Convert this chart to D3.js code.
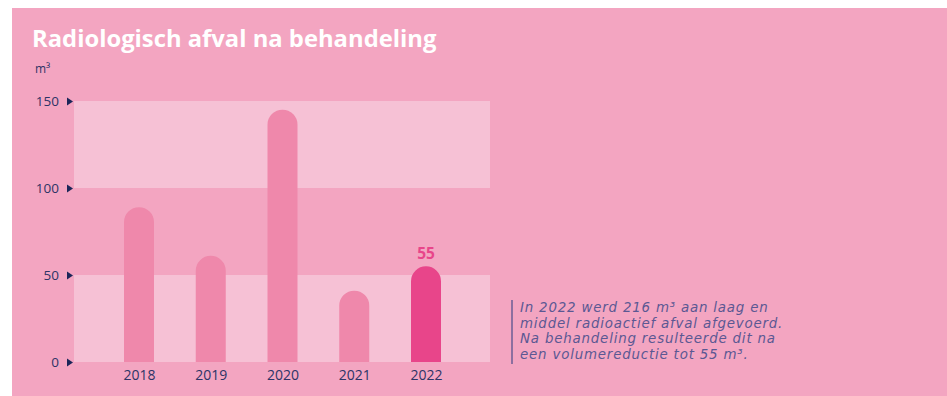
<!DOCTYPE html>
<html>
<head>
<meta charset="utf-8">
<script src="https://cdn.jsdelivr.net/npm/d3@7"></script>
<style>
  html, body { margin: 0; padding: 0; background: #ffffff; }
  svg { display: block; }
</style>
</head>
<body>
<svg id="chart" width="947" height="396"></svg>
<script>
// Radioactive waste volume after treatment, m³ per year
const years = ["2018", "2019", "2020", "2021", "2022"];
const volumes = [89, 61, 145, 41, 55];
const highlightYear = "2022";
const yTicks = [0, 50, 100, 150];
const bands = [[0, 50], [100, 150]];
const titleText = "Radiologisch afval na behandeling";
const unitText = "m³";
const noteLines = [
  "In 2022 werd 216 m³ aan laag en",
  "middel radioactief afval afgevoerd.",
  "Na behandeling resulteerde dit na",
  "een volumereductie tot 55 m³."
];

const svg = d3.select("#chart");
const navy = "#2d3466";

// panel
svg.append("rect").attr("x", 12).attr("y", 8).attr("width", 935).attr("height", 388)
  .attr("fill", "#f3a5c1");

svg.append("text").attr("x", 32).attr("y", 47)
  .attr("font-family", "'Open Sans', sans-serif").attr("font-weight", 700)
  .attr("font-size", 23.8).attr("fill", "#ffffff").text(titleText);

svg.append("text").attr("x", 35).attr("y", 73)
  .attr("font-family", "'Open Sans', sans-serif").attr("font-size", 12)
  .attr("fill", navy).text(unitText);

const y = d3.scaleLinear().domain([0, 150]).range([362, 101]);
const x = d3.scalePoint().domain(years).range([139, 426]);
const barW = 30;
const plotLeft = 74, plotRight = 490;

// alternating background bands
svg.append("g").selectAll("rect").data(bands).join("rect")
  .attr("x", plotLeft).attr("width", plotRight - plotLeft)
  .attr("y", d => y(d[1])).attr("height", d => y(d[0]) - y(d[1]))
  .attr("fill", "#f6c1d5");

// y axis: labels with small triangle markers
const yAxis = svg.append("g").attr("transform", `translate(${plotLeft},0)`)
  .call(d3.axisLeft(y).tickValues(yTicks).tickSize(0).tickPadding(15));
yAxis.select(".domain").remove();
yAxis.selectAll("text").attr("font-family", "'Open Sans', sans-serif")
  .attr("font-size", 13.5).attr("fill", navy);
yAxis.selectAll(".tick").append("path")
  .attr("d", "M-7,-4L-1,0L-7,4Z").attr("fill", "#1b2659");

// bars with rounded tops
function barPath(cx, top, bottom, w) {
  const r = w / 2;
  return `M${cx - r},${bottom}L${cx - r},${top + r}A${r},${r} 0 0 1 ${cx + r},${top + r}L${cx + r},${bottom}Z`;
}
const data = years.map((yr, i) => ({ year: yr, value: volumes[i] }));
svg.append("g").selectAll("path").data(data).join("path")
  .attr("d", d => barPath(x(d.year), y(d.value), y(0), barW))
  .attr("fill", d => d.year === highlightYear ? "#e8458a" : "#ef88ab");

// value label on highlighted bar
data.filter(d => d.year === highlightYear).forEach(d => {
  svg.append("text").attr("x", x(d.year)).attr("y", y(d.value) - 7)
    .attr("text-anchor", "middle")
    .attr("font-family", "'Open Sans', sans-serif").attr("font-weight", 700)
    .attr("font-size", 15.5).attr("fill", "#e8458a").text(d.value);
});

// x axis labels
const xAxis = svg.append("g").attr("transform", `translate(0,${y(0)})`)
  .call(d3.axisBottom(x).tickSize(0).tickPadding(8));
xAxis.select(".domain").remove();
xAxis.selectAll("text").attr("font-family", "'Open Sans', sans-serif")
  .attr("font-size", 14).attr("fill", navy);

// side note, one text line per row with tight leading
svg.append("line").attr("x1", 512).attr("x2", 512).attr("y1", 300).attr("y2", 364)
  .attr("stroke", "#6b5e94").attr("stroke-width", 1.5);
svg.append("g").selectAll("text").data(noteLines).join("text")
  .attr("x", 520).attr("y", (d, i) => 312 + i * 15.7)
  .attr("font-family", "'DejaVu Sans', sans-serif").attr("font-style", "italic")
  .attr("font-size", 13.4).attr("letter-spacing", 0.8).attr("fill", "#5b5893")
  .text(d => d);
</script>
</body>
</html>
